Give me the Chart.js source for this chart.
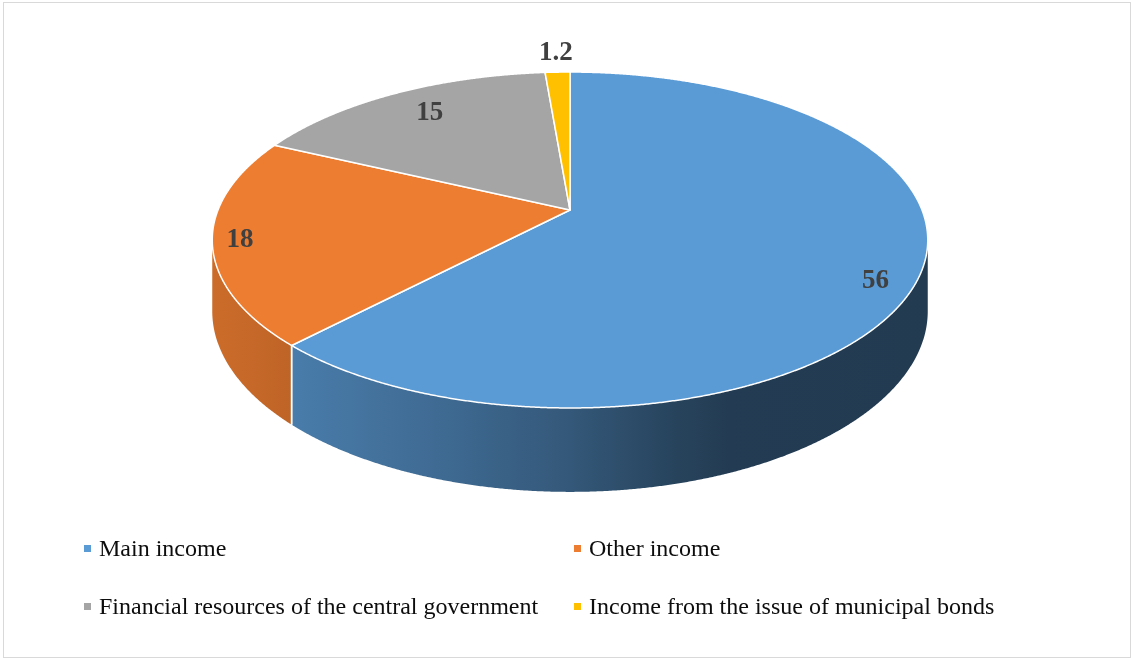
<!DOCTYPE html>
<html>
<head>
<meta charset="utf-8">
<script src="https://cdn.jsdelivr.net/npm/chart.js@4.4.0/dist/chart.umd.min.js"></script>
<style>
  body { margin: 0; background: #fff; }
  #wrap { position: relative; width: 1132px; height: 659px; overflow: hidden; }
  #frame { position: absolute; left: 3px; top: 2px; width: 1128px; height: 656px; border: 1.5px solid #d9d9d9; box-sizing: border-box; pointer-events: none; }
  .leg { position: absolute; font: 24px "Liberation Serif", "Times New Roman", serif; color: #0d0d0d; line-height: 24px; white-space: nowrap; padding-left: 15px; }
  .leg i { position: absolute; left: 0; top: 9px; width: 7px; height: 7px; }
</style>
</head>
<body>
<div id="wrap">
  <canvas id="myChart" width="1132" height="659"></canvas>
  <div id="legend"></div>
  <div id="frame"></div>
</div>
<script>
const labels = ['Main income', 'Other income', 'Financial resources of the central government', 'Income from the issue of municipal bonds'];
const values = [56, 18, 15, 1.2];
const valueLabels = ['56', '18', '15', '1.2'];
const colors = ['#5B9BD5', '#ED7D31', '#A5A5A5', '#FFC000'];

// label placement along the slice radius (fraction) plus a small vertical nudge
const labelRadius = [0.88, 0.925, 0.78, 1.17];
const labelNudge = [15, 2, -3, 0];

const tilt = 0.1786;   // perspective strength
const depth = 0.424;   // side wall height, relative to the vertical radius

// wall shading, left to right across the pie
const wallShade = [[0, 0.86], [0.116, 0.8], [0.33, 0.68], [0.5, 0.57], [0.65, 0.43], [0.72, 0.39], [1, 0.38]];

function shade(hex, f) {
  const n = parseInt(hex.slice(1), 16);
  const r = Math.round(((n >> 16) & 255) * f);
  const g = Math.round(((n >> 8) & 255) * f);
  const b = Math.round((n & 255) * f);
  return `rgb(${r},${g},${b})`;
}

function project(arc, area, phi, t, h) {
  const rx = area.width / 2, ry = arc.outerRadius;
  const w = 1 / (1 - tilt * t * Math.sin(phi));
  return {
    x: arc.x + rx * t * Math.cos(phi) * w,
    y: arc.y + (ry * t * Math.sin(phi) + h * ry) * w
  };
}

function tracePath(ctx, arc, area, a, b, t, h, first) {
  const steps = Math.max(2, Math.ceil(Math.abs(b - a) / 0.004));
  for (let i = 0; i <= steps; i++) {
    const p = project(arc, area, a + (b - a) * i / steps, t, h);
    if (i === 0 && first) ctx.moveTo(p.x, p.y); else ctx.lineTo(p.x, p.y);
  }
}

const pie3d = {
  id: 'pie3d',
  beforeDatasetsDraw(chart) {
    const ctx = chart.ctx;
    const area = chart.chartArea;
    const arcs = chart.getDatasetMeta(0).data;
    const rx = area.width / 2;
    const lo = Math.asin(tilt), hi = Math.PI - Math.asin(tilt);

    ctx.save();
    // side walls
    arcs.forEach((arc, i) => {
      const a = Math.max(arc.startAngle, lo), b = Math.min(arc.endAngle, hi);
      if (b <= a) return;
      const grad = ctx.createLinearGradient(arc.x - rx * 1.02, 0, arc.x + rx * 1.02, 0);
      wallShade.forEach(s => grad.addColorStop(s[0], shade(colors[i], s[1])));
      ctx.beginPath();
      tracePath(ctx, arc, area, a, b, 1, 0, true);
      tracePath(ctx, arc, area, b, a, 1, depth, false);
      ctx.closePath();
      ctx.fillStyle = grad;
      ctx.fill();
    });
    // white seams on the wall
    ctx.strokeStyle = '#ffffff';
    ctx.lineWidth = 1.5;
    arcs.forEach(arc => {
      [arc.startAngle, arc.endAngle].forEach(phi => {
        if (phi <= lo || phi >= hi) return;
        const p1 = project(arc, area, phi, 1, 0), p2 = project(arc, area, phi, 1, depth);
        ctx.beginPath();
        ctx.moveTo(p1.x, p1.y);
        ctx.lineTo(p2.x, p2.y);
        ctx.stroke();
      });
    });
    // top faces
    arcs.forEach((arc, i) => {
      const c = project(arc, area, 0, 0, 0);
      ctx.beginPath();
      ctx.moveTo(c.x, c.y);
      tracePath(ctx, arc, area, arc.startAngle, arc.endAngle, 1, 0, false);
      ctx.closePath();
      ctx.fillStyle = colors[i];
      ctx.fill();
      ctx.lineJoin = 'round';
      ctx.stroke();
    });
    // value labels
    ctx.font = 'bold 27px "Liberation Serif", "Times New Roman", serif';
    ctx.fillStyle = '#404040';
    ctx.textAlign = 'center';
    ctx.textBaseline = 'middle';
    arcs.forEach((arc, i) => {
      const mid = (arc.startAngle + arc.endAngle) / 2;
      const p = project(arc, area, mid, labelRadius[i], 0);
      ctx.fillText(valueLabels[i], p.x, p.y + labelNudge[i]);
    });
    ctx.restore();
    return false;
  }
};

const chartContext = document.getElementById('myChart').getContext('2d');
const pieChart = new Chart(chartContext, {
  type: 'pie',
  data: {
    labels: labels,
    datasets: [{
      data: values,
      backgroundColor: colors,
      borderWidth: 0
    }]
  },
  options: {
    responsive: false,
    animation: false,
    layout: { padding: { left: 218, right: 210, top: 47.4, bottom: 286.4 } },
    plugins: {
      legend: { display: false },
      tooltip: { enabled: false }
    }
  },
  plugins: [pie3d]
});

// legend, two columns
const legendCols = [84, 574];
const legendRows = [536, 594];
const legendBox = document.getElementById('legend');
labels.forEach((label, i) => {
  const item = document.createElement('div');
  item.className = 'leg';
  item.style.left = legendCols[i % 2] + 'px';
  item.style.top = legendRows[Math.floor(i / 2)] + 'px';
  item.innerHTML = `<i style="background:${colors[i]}"></i>${label}`;
  legendBox.appendChild(item);
});
</script>
</body>
</html>
